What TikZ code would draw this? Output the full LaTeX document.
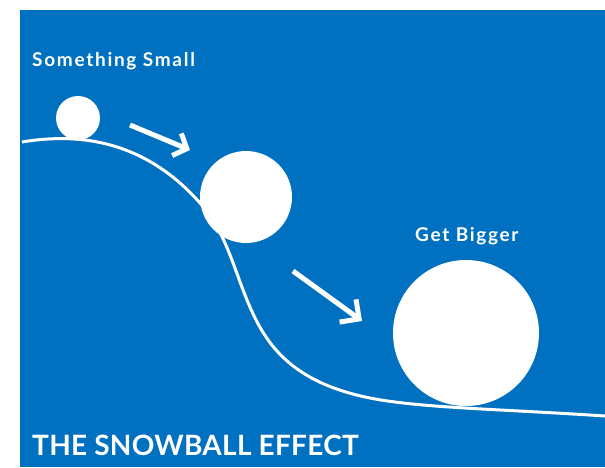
\documentclass[tikz,border=0pt]{standalone}
\usepackage{fontspec}
\setmainfont{Lato}
\usetikzlibrary{arrows.meta}
\definecolor{bgblue}{HTML}{0070C0}
\tikzset{
  ball/.style={circle, fill=white, draw=none, inner sep=0pt},
  lbl/.style={text=white, anchor=base west, inner sep=0pt},
  slope/.style={draw=white, line width=3pt},
  mover/.style={draw=white, line width=5pt},
  smalltip/.style={-{Straight Barb[length=11pt, width=24pt, line width=5pt]}},
  bigtip/.style={-{Straight Barb[length=14pt, width=28pt, line width=5pt]}}
}
\begin{document}
\begin{tikzpicture}[x=1pt, y=-1pt]
\useasboundingbox (0,0) rectangle (605,467);
\fill[white] (0,0) rectangle (605,467);
\fill[bgblue] (20,10) rectangle (605,467);
% hill
\draw[slope] (22,142) .. controls (70,134) and (140,135) .. (200,203)
  .. controls (224,230) and (232,262) .. (245,295)
  .. controls (262,338) and (285,381) .. (370,398)
  .. controls (420,408) and (500,409) .. (605,416);
% balls
\node[ball, minimum size=44pt] (b1) at (78,118) {};
\node[ball, minimum size=92pt] (b2) at (246,197) {};
\node[ball, minimum size=146pt] (b3) at (466,333) {};
% arrows
\coordinate (a1s) at (130,125);
\coordinate (a1e) at (190,150);
\coordinate (a2s) at (293,271);
\coordinate (a2e) at (362,321);
\draw[mover, smalltip] (a1s) -- (a1e);
\draw[mover, bigtip] (a2s) -- (a2e);
% labels
\node[lbl, font=\bfseries\fontsize{19}{22}\selectfont\addfontfeature{LetterSpace=9}] (t1) at (32,66) {Something Small};
\node[lbl, font=\bfseries\fontsize{19}{22}\selectfont\addfontfeature{LetterSpace=9}] (t2) at (415,241) {Get Bigger};
\node[lbl, font=\bfseries\fontsize{28}{32}\selectfont\addfontfeature{LetterSpace=1}] (t3) at (32,455) {THE SNOWBALL EFFECT};
\end{tikzpicture}
\end{document}
